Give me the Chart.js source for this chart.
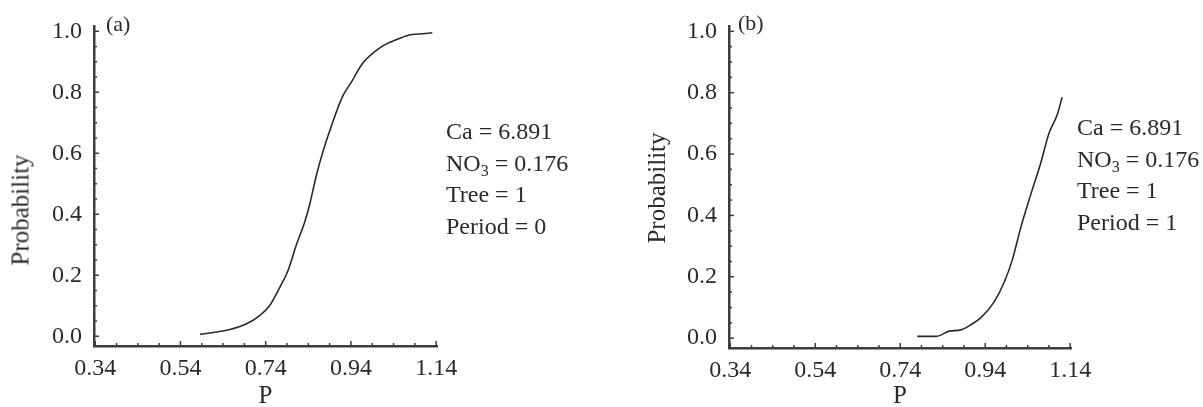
<!DOCTYPE html>
<html>
<head>
<meta charset="utf-8">
<title>Probability vs P</title>
<script src="https://cdn.jsdelivr.net/npm/chart.js@4.4.1/dist/chart.umd.min.js"></script>
<style>
  body { margin: 0; background: #fff; width: 1203px; height: 407px; position: relative; overflow: hidden;
         font-family: "Liberation Serif", "Times New Roman", serif; color: #2a2a2a; }
  .panel { position: absolute; top: 0; height: 407px; }
  .tag { position: absolute; font-size: 22px; line-height: 24px; }
  .note { position: absolute; font-size: 24px; line-height: 31.5px; white-space: nowrap; }
  .note sub { font-size: 16px; vertical-align: -5px; line-height: 0; }
  .ytitle { position: absolute; font-size: 25px; line-height: 25px; white-space: nowrap;
            transform: translate(-50%, -50%) rotate(-90deg); }
</style>
</head>
<body>
<div class="panel" style="left:0;width:600px"><canvas id="chartA"></canvas></div>
<div class="panel" style="left:635px;width:568px"><canvas id="chartB"></canvas></div>
<div class="ytitle" style="left:20px;top:210px">Probability</div>
<div class="ytitle" style="left:656px;top:188px">Probability</div>
<div class="tag" style="left:106px;top:12px">(a)</div>
<div class="tag" style="left:738px;top:11px">(b)</div>
<div class="note" style="left:446px;top:116px">Ca = 6.891<br>NO<sub>3</sub> = 0.176<br>Tree = 1<br>Period = 0</div>
<div class="note" style="left:1077px;top:112px">Ca = 6.891<br>NO<sub>3</sub> = 0.176<br>Tree = 1<br>Period = 1</div>
<script>
// tick labels
const xTicks = [0.34, 0.54, 0.74, 0.94, 1.14];
const yTicks = [0.0, 0.2, 0.4, 0.6, 0.8, 1.0];

// (a) Period = 0
const pA = [0.586, 0.617, 0.656, 0.695, 0.726, 0.749, 0.773, 0.792, 0.812, 0.831, 0.843,
            0.859, 0.874, 0.897, 0.921, 0.940, 0.968, 1.007, 1.046, 1.077, 1.100, 1.131];
const probA = [0.006, 0.012, 0.022, 0.041, 0.068, 0.100, 0.160, 0.214, 0.300, 0.372, 0.431,
               0.528, 0.604, 0.701, 0.788, 0.831, 0.896, 0.945, 0.972, 0.988, 0.991, 0.995];

// (b) Period = 1
const pB = [0.780, 0.825, 0.856, 0.883, 0.903, 0.930, 0.962, 0.985, 1.004, 1.024, 1.047,
            1.071, 1.090, 1.110, 1.121];
const probB = [0.006, 0.006, 0.023, 0.027, 0.041, 0.067, 0.120, 0.183, 0.256, 0.362, 0.467,
               0.572, 0.667, 0.730, 0.785];

const ink = '#2a2a2a';
const axisInk = '#3d3d3d';
const serif = '"Liberation Serif", "Times New Roman", serif';

// small tick marks pointing into the plot, as in the original
const innerTicks = {
    id: 'innerTicks',
    afterDraw(chart) {
        const ctx = chart.ctx;
        const xs = chart.scales.x;
        const ys = chart.scales.y;
        ctx.save();
        ctx.strokeStyle = axisInk;
        ctx.lineWidth = 1.5;
        xs.ticks.forEach(t => {
            const px = xs.getPixelForValue(t.value);
            const len = t.label ? 5 : 3;
            ctx.beginPath();
            ctx.moveTo(px, xs.top);
            ctx.lineTo(px, xs.top - len);
            ctx.stroke();
        });
        ys.ticks.forEach(t => {
            const py = ys.getPixelForValue(t.value);
            const len = t.label ? 5 : 3;
            ctx.beginPath();
            ctx.moveTo(ys.right, py);
            ctx.lineTo(ys.right + len, py);
            ctx.stroke();
        });
        ctx.restore();
    }
};

function steps(from, to, step) {
    const out = [];
    for (let v = from; v <= to + 1e-9; v += step) out.push({ value: Math.round(v * 1000) / 1000 });
    return out;
}

function isLabel(list, v) {
    return list.some(t => Math.abs(t - v) < 1e-6);
}

function makePanel(id, xs, ys, box) {
    const ctx = document.getElementById(id).getContext('2d');
    return new Chart(ctx, {
        type: 'line',
        data: {
            datasets: [{
                data: xs.map((x, i) => ({ x: x, y: ys[i] })),
                borderColor: ink,
                borderWidth: 1.6,
                pointRadius: 0,
                fill: false,
                cubicInterpolationMode: 'monotone'
            }]
        },
        options: {
            responsive: true,
            maintainAspectRatio: false,
            animation: false,
            devicePixelRatio: 1,
            layout: { padding: { left: 0, right: box.right, top: box.top, bottom: 0 } },
            plugins: { legend: { display: false }, tooltip: { enabled: false } },
            scales: {
                x: {
                    type: 'linear',
                    min: 0.337,
                    max: 1.142,
                    afterBuildTicks: axis => { axis.ticks = steps(xTicks[0], xTicks[xTicks.length - 1], 0.05); },
                    afterFit: axis => { axis.height = box.xHeight; },
                    grid: { display: false, drawTicks: false },
                    border: { display: true, color: axisInk, width: 2.5 },
                    ticks: {
                        autoSkip: false,
                        maxRotation: 0,
                        padding: 8,
                        color: ink,
                        font: { family: serif, size: 24 },
                        callback: v => isLabel(xTicks, v) ? v.toFixed(2) : ''
                    },
                    title: {
                        display: true,
                        text: 'P',
                        color: ink,
                        font: { family: serif, size: 25, lineHeight: 1 },
                        padding: { top: 0, bottom: -2 }
                    }
                },
                y: {
                    type: 'linear',
                    min: -0.032,
                    max: 1.016,
                    afterBuildTicks: axis => { axis.ticks = steps(yTicks[0], yTicks[yTicks.length - 1], 0.05); },
                    afterFit: axis => { axis.width = 94; },
                    grid: { display: false, drawTicks: false },
                    border: { display: true, color: axisInk, width: 2.5 },
                    ticks: {
                        autoSkip: false,
                        padding: 12,
                        color: ink,
                        font: { family: serif, size: 24 },
                        callback: v => isLabel(yTicks, v) ? v.toFixed(1) : ''
                    }
                }
            }
        },
        plugins: [innerTicks]
    });
}

makePanel('chartA', pA, probA, { right: 163, top: 23, xHeight: 61 });
makePanel('chartB', pB, probB, { right: 132, top: 16, xHeight: 59 });
</script>
</body>
</html>
